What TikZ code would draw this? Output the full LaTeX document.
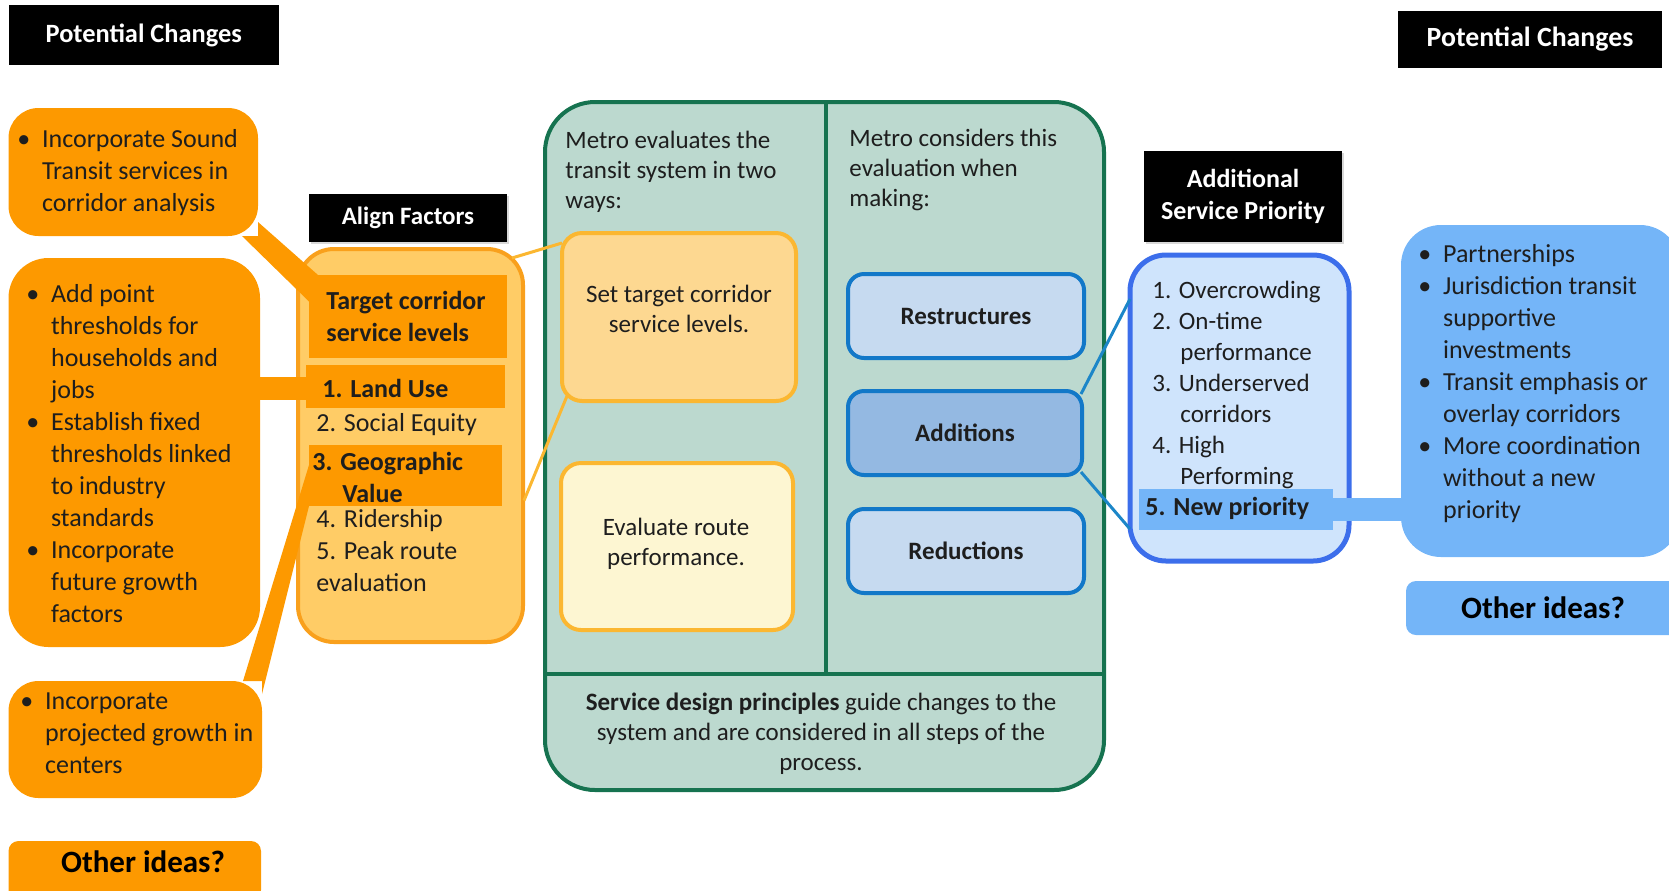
\documentclass[tikz,border=0pt]{standalone}
\usepackage{fontspec}
\setmainfont{Carlito}
\usetikzlibrary{positioning,calc,shadows}

\definecolor{orangeA}{RGB}{253,153,0}
\definecolor{orangeL}{RGB}{255,204,102}
\definecolor{orangeB}{RGB}{249,160,28}
\definecolor{goldB}{RGB}{251,183,49}
\definecolor{goldF}{RGB}{253,216,145}
\definecolor{creamF}{RGB}{253,246,210}
\definecolor{metroF}{RGB}{188,217,207}
\definecolor{metroB}{RGB}{22,115,80}
\definecolor{blueB}{RGB}{18,120,200}
\definecolor{blueF}{RGB}{198,218,240}
\definecolor{blueM}{RGB}{148,185,226}
\definecolor{prioF}{RGB}{207,228,252}
\definecolor{prioB}{RGB}{60,110,235}
\definecolor{ideaF}{RGB}{116,181,248}
\definecolor{lineB}{RGB}{28,134,200}
\definecolor{ink}{RGB}{30,30,30}

\newcommand{\body}{\fontsize{13}{16}\selectfont}
\newcommand{\mbody}{\fontsize{12.5}{15}\selectfont}
\newcommand{\bl}{\makebox[0.95em][l]{\textbullet}}
\newcommand{\ind}{\hspace*{0.95em}}

\tikzset{
    box/.style={
                inner sep=0pt,
                outer sep=0pt
            },
        header/.style={
                box,
                fill=black,
                text=white,
                align=center,
                font=\bfseries\fontsize{12.5}{16}\selectfont
            },
        change/.style={
                box,
                fill=orangeA
            },
        evalbox/.style={
                box,
                draw=goldB,
                line width=2pt,
                rounded corners=10pt,
                minimum width=117pt,
                minimum height=84pt
            },
        action/.style={
                box,
                fill=blueF,
                draw=blueB,
                line width=2pt,
                rounded corners=8pt,
                minimum width=118pt,
                minimum height=42pt,
                text=ink,
                font=\bfseries\fontsize{12.5}{15}\selectfont
            },
        txt/.style={
                anchor=north west,
                align=left,
                inner sep=0pt,
                text=ink,
                font=\body,
                execute at begin node=\strut
            },
        ctxt/.style={
                align=center,
                inner sep=0pt,
                text=ink,
                font=\mbody
            },
        ideas/.style={
                text=black,
                font=\bfseries\fontsize{15.5}{18}\selectfont
            },
}

\begin{document}
\begin{tikzpicture}[x=0.5pt, y=-0.5pt]
\useasboundingbox (0,0) rectangle (1669,890);
\clip (0,0) rectangle (1669,890);
% Left side: potential changes
\node[header, font=\bfseries\fontsize{13.2}{16}\selectfont, minimum width=135pt, minimum height=30pt] (potL) at (143.75,35) {Potential Changes};
\node[change, rounded corners=15pt, minimum width=124.75pt, minimum height=64pt] (sound) at (133.25,172) {};
\node[change, rounded corners=20pt, minimum width=125.75pt, minimum height=194.5pt] (thresh) at (134.25,452.5) {};
\node[change, rounded corners=15pt, minimum width=126.75pt, minimum height=58.5pt] (proj) at (135.25,739.5) {};
\node[change, rounded corners=5pt, minimum width=126.25pt, minimum height=29.5pt] (othL) at (134.75,870.5) {};
% Align factors
\node[header, minimum width=99pt, minimum height=24pt, drop shadow={shadow xshift=1pt, shadow yshift=-1pt, fill=gray!60}] (alignhdr) at (408,218) {Align Factors};
\node[box, fill=orangeL, draw=orangeB, line width=2pt, rounded corners=18pt, minimum width=112.5pt, minimum height=196.5pt] (align) at (410.5,445.5) {};
\node[change, minimum width=99pt, minimum height=41.5pt] (target) at (408,316.5) {};
\node[change, minimum width=99.5pt, minimum height=21.5pt] (land) at (405.5,386.5) {};
\node[change, minimum width=96.5pt, minimum height=30.5pt] (geo) at (405.5,475.5) {};
% Metro evaluation
\node[box, fill=metroF, draw=metroB, line width=2pt, rounded corners=25pt, minimum width=279.5pt, minimum height=344pt] (metro) at (824.5,446) {};
\coordinate (split) at ($(metro.west)+(0,228)$);
\coordinate (divtop) at ($(metro.north)+(1.5,0)$);
\draw[metroB, line width=2pt] (split) -- (split -| metro.east);
\draw[metroB, line width=2pt] (divtop) -- (divtop |- split);
\node[evalbox, fill=goldF] (settarget) at (679,317) {};
\node[evalbox, fill=creamF, minimum width=116pt, minimum height=83.5pt] (evalr) at (677,546.5) {};
\node[action] (restr) at (966,316) {Restructures};
\node[action, fill=blueM, minimum width=117pt] (addit) at (965,433) {Additions};
\node[action] (reduc) at (966,551) {Reductions};
% Additional service priority
\node[header, font=\bfseries\fontsize{13}{16}\selectfont, minimum width=99pt, minimum height=45.5pt, drop shadow={shadow xshift=1pt, shadow yshift=-1pt, fill=gray!60}] (asphdr) at (1243,196.5) {Additional\\Service Priority};
\node[box, fill=prioF, draw=prioB, line width=2.5pt, rounded corners=18pt, minimum width=109.5pt, minimum height=153pt] (prio) at (1239.5,408) {};
\draw[lineB, line width=1.5pt] ($(addit.north east)+(-1,3)$) -- ($(prio.north west)+(0,44)$);
\draw[lineB, line width=1.5pt] ($(addit.south east)+(-1,-3)$) -- ($(prio.south west)+(0,-32)$);
\node[box, fill=ideaF, minimum width=97pt, minimum height=20.5pt] (newp) at (1236,509.5) {};
% Right side: potential changes
\node[header, font=\bfseries\fontsize{13.9}{16}\selectfont, minimum width=132pt, minimum height=28.5pt] (potR) at (1530,39.5) {Potential Changes};
\node[box, fill=ideaF, rounded corners=20pt, minimum width=139.5pt, minimum height=166pt] (ideasR) at (1540.5,391) {};
\node[box, fill=ideaF, rounded corners=5pt, minimum width=137pt, minimum height=27pt, ideas] (othR) at (1543,608) {Other ideas?};

% Connectors
\fill[orangeA] (sound.south east) -- ($(sound.south east)+(0,-14)$) -- ($(target.north west)+(9,0)$) -- ($(target.west)+(0,-15)$) -- ($(sound.south east)+(-16,0)$) -- cycle;
\fill[orangeA] ($(land.west)+(2,-9.5)$) rectangle ($(thresh.east |- land.west)+(-6,13.5)$);
\fill[orangeA] ($(geo.west)+(0,-10.5)$) -- (geo.south west) -- ($(proj.north east)+(0,13)$) -- (proj.north east) -- ($(proj.north east)+(-19,0)$) -- cycle;
\draw[goldB, line width=1.5pt] ($(align.north east)+(-11,9)$) -- ($(settarget.north west)+(0,10)$);
\draw[goldB, line width=1.5pt] ($(settarget.south west)+(5,-5)$) -- ($(align.east)+(1,55)$);
\fill[ideaF] ($(newp.east)+(-2,-11.5)$) rectangle ($(ideasR.west |- newp.east)+(6,11.5)$);

% Texts
\node[txt] (soundtxt) at (17,129) {\bl Incorporate Sound\\\ind Transit services in\\\ind corridor analysis};
\node[txt] (threshtxt) at (26,284) {\bl Add point\\\ind thresholds for\\\ind households and\\\ind jobs\\\bl Establish fixed\\\ind thresholds linked\\\ind to industry\\\ind standards\\\bl Incorporate\\\ind future growth\\\ind factors};
\node[txt] (projtxt) at (20,692) {\bl Incorporate\\\ind projected growth in\\\ind centers};
\node[ideas] (othLtxt) at (143,862) {Other ideas?};
\node[txt, font=\body\bfseries] (targettxt) at (326,291) {Target corridor\\service levels};
\node[txt, font=\body\bfseries] (landtxt) at (322,375) {1. Land Use};
\node[txt] (socialtxt) at (316,409) {2. Social Equity};
\node[txt, font=\body\bfseries] (geotxt) at (312,452) {3. Geographic\\\hspace*{15pt}Value};
\node[txt] (ridetxt) at (316,509) {4. Ridership\\5. Peak route\\evaluation};
\node[txt, font=\mbody] (evaltxt) at (565,131) {Metro evaluates the\\transit system in two\\ways:};
\node[txt, font=\mbody] (considtxt) at (849,129) {Metro considers this\\evaluation when\\making:};
\node[ctxt] (settxt) at (679,309) {Set target corridor\\service levels.};
\node[ctxt] (routetxt) at (676,544) {Evaluate route\\performance.};
\node[ctxt] (principles) at (821,734) {\textbf{Service design principles} guide changes to the\\system and are considered in all steps of the\\process.};
\node[txt, font=\fontsize{12.5}{15.5}\selectfont] (priotxt) at (1152,281) {1. Overcrowding\\2. On-time\\\hspace*{14pt}performance\\3. Underserved\\\hspace*{14pt}corridors\\4. High\\\hspace*{14pt}Performing};
\node[txt, font=\body\bfseries] (newptxt) at (1145,493) {5. New priority};
\node[txt] (ideastxt) at (1418,244) {\bl Partnerships\\\bl Jurisdiction transit\\\ind supportive\\\ind investments\\\bl Transit emphasis or\\\ind overlay corridors\\\bl More coordination\\\ind without a new\\\ind priority};
\end{tikzpicture}
\end{document}
